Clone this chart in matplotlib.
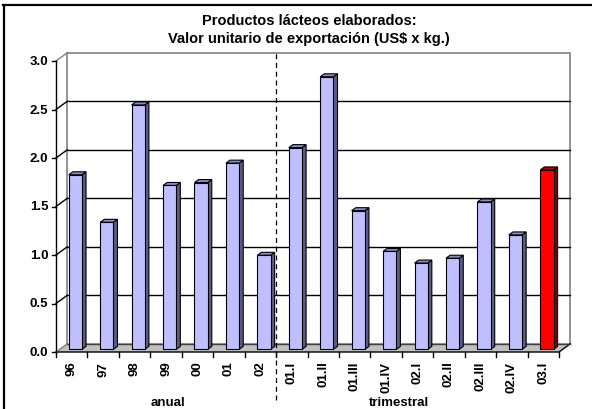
import numpy as np
import matplotlib
matplotlib.use("Agg")
import matplotlib.pyplot as plt
from matplotlib.patches import Polygon
from matplotlib.lines import Line2D

plt.rcParams["font.family"] = ["Liberation Sans", "DejaVu Sans"]
plt.rcParams["font.weight"] = "bold"

# data
categories = ["96", "97", "98", "99", "00", "01", "02",
              "01.I", "01.II", "01.III", "01.IV",
              "02.I", "02.II", "02.III", "02.IV", "03.I"]
values = [1.80, 1.31, 2.52, 1.69, 1.72, 1.92, 0.97,
          2.08, 2.81, 1.43, 1.01, 0.89, 0.94, 1.52, 1.18, 1.85]
highlight = "03.I"
yticks = [0.0, 0.5, 1.0, 1.5, 2.0, 2.5, 3.0]
title = "Productos lácteos elaborados:\nValor unitario de exportación (US$ x kg.)"
group_labels = ["anual", "trimestral"]

n = len(categories)
# depth offset of the back wall (data units) and bar placement in depth
dx, dy = 0.36, 0.085
d0, d1 = 0.32, 0.68
w = 0.42

fig = plt.figure(figsize=(5.92, 4.10), dpi=100)
ax = fig.add_axes([56/592, 57/410, 503/592, 291/410])
ax.set_xlim(0, n)
ax.set_ylim(0, 3)
ax.axis("off")

# outer frame (top and left)
fig.add_artist(Line2D([3/592, 1], [1-5.5/410, 1-5.5/410], color="black", lw=1.6, transform=fig.transFigure))
fig.add_artist(Line2D([3.5/592, 3.5/592], [0, 1-5.5/410], color="black", lw=1.6, transform=fig.transFigure))

# back wall
ax.add_patch(Polygon([(dx, dy), (n+dx, dy), (n+dx, 3+dy), (dx, 3+dy)], closed=True,
                     facecolor="white", edgecolor="#808080", lw=1.2, clip_on=False, zorder=1))
# floor
ax.add_patch(Polygon([(0, 0), (n, 0), (n+dx, dy), (dx, dy)], closed=True,
                     facecolor="#c0c0c0", edgecolor="none", clip_on=False, zorder=1))
ax.plot([0, n, n+dx], [0, 0, dy], color="black", lw=1, clip_on=False, zorder=2)
ax.plot([dx, n+dx], [dy, dy], color="#404040", lw=1, clip_on=False, zorder=2)

# gridlines on back and side walls
for v in yticks[1:-1]:
    ax.plot([dx, n+dx], [v+dy, v+dy], color="black", lw=1, clip_on=False, zorder=2)
for v in yticks:
    ax.plot([0, dx], [v, v+dy], color="#808080" if v in (0, 3) else "black", lw=1, clip_on=False, zorder=2)
ax.plot([0, 0], [0, 3], color="black", lw=1, clip_on=False, zorder=3)

# y ticks and labels
for v in yticks:
    ax.plot([-0.13, 0], [v, v], color="black", lw=1, clip_on=False, zorder=3)
    ax.text(-0.24, v, f"{v:.1f}", ha="right", va="center", fontsize=9.5, fontweight="bold")

# x ticks and labels
for i in range(n+1):
    ax.plot([i, i], [0, -0.055], color="black", lw=1, clip_on=False, zorder=3)
for i, c in enumerate(categories):
    ax.text(i+0.5, -0.09, c, rotation=90, ha="center", va="top", fontsize=9.5, fontweight="bold")

# bars (pseudo 3D)
for i, (c, v) in enumerate(zip(categories, values)):
    if c == highlight:
        front, side, top = "#ff0000", "#800000", "#c00000"
    else:
        front, side, top = "#bfbfff", "#5c5c8c", "#8c8cc4"
    xl = i + 0.5 - w/2 + d0*dx
    xr = xl + w
    b0, b1 = d0*dy, d1*dy
    sx = (d1 - d0)*dx
    ax.bar(xl, v, width=w, bottom=b0, align="edge", color=front, edgecolor="black", lw=0.8, zorder=5, clip_on=False)
    ax.add_patch(Polygon([(xr, b0), (xr+sx, b1), (xr+sx, v+b1), (xr, v+b0)], closed=True,
                         facecolor=side, edgecolor="black", lw=0.8, zorder=4, clip_on=False))
    ax.add_patch(Polygon([(xl, v+b0), (xr, v+b0), (xr+sx, v+b1), (xl+sx, v+b1)], closed=True,
                         facecolor=top, edgecolor="black", lw=0.8, zorder=4, clip_on=False))

# separator between annual and quarterly data
ax.plot([7, 7], [-0.49, 3+dy], color="black", lw=0.9, ls=(0, (4, 3)), clip_on=False, zorder=6)

ax.text(3.56, -0.515, group_labels[0], ha="center", va="center", fontsize=9.5, fontweight="bold")
ax.text(10.9, -0.515, group_labels[1], ha="center", va="center", fontsize=9.5, fontweight="bold")

fig.text(309/592, 1-30/410, title, ha="center", va="center", fontsize=10.5, fontweight="bold", linespacing=1.45)

fig.savefig("out.png", dpi=100)
